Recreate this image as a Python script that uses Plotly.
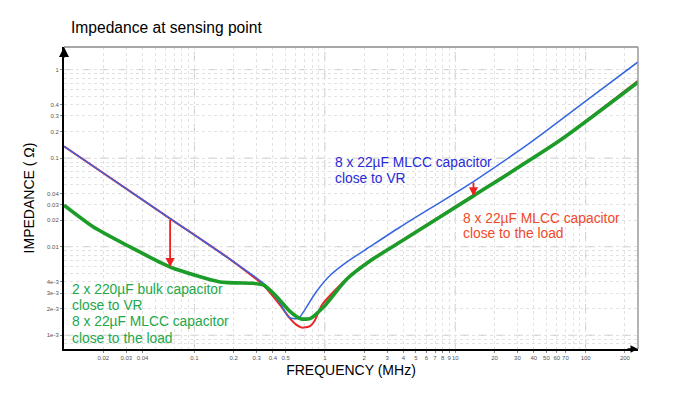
import math
import plotly.graph_objects as go

# ---------------- data ----------------
freq_blue = [0.01, 0.02, 0.0651, 0.188, 0.338, 0.454, 0.526, 0.57, 0.63, 0.686, 0.86, 1.1, 1.47, 2.22, 3.78, 13.8, 39.8, 100, 252]
z_blue = [0.136, 0.068, 0.0208, 7.2e-3, 3.86e-3, 2.29e-3, 1.61e-3, 1.55e-3, 1.55e-3, 1.84e-3, 3.1e-3, 4.76e-3, 6.7e-3, 0.01, 0.0167, 0.0545, 0.159, 0.44, 1.22]

freq_red = [0.01, 0.0651, 0.188, 0.338, 0.454, 0.54, 0.61, 0.667, 0.77, 0.84, 0.95, 1.47, 2.22, 3.78, 13.8, 63.7, 252]
z_red = [0.136, 0.0208, 7.2e-3, 3.67e-3, 2.19e-3, 1.55e-3, 1.3e-3, 1.22e-3, 1.27e-3, 1.48e-3, 2.2e-3, 4.35e-3, 7.0e-3, 0.0114, 0.0383, 0.161, 0.75]

freq_green = [0.01, 0.0168, 0.0303, 0.0651, 0.157, 0.283, 0.338, 0.428, 0.54, 0.65, 0.77, 0.977, 1.47, 2.22, 3.78, 13.8, 63.7, 252]
z_green = [0.0294, 0.0167, 0.0104, 5.9e-3, 4.0e-3, 3.86e-3, 3.7e-3, 2.73e-3, 1.86e-3, 1.54e-3, 1.54e-3, 2.08e-3, 4.3e-3, 6.9e-3, 0.0113, 0.0375, 0.159, 0.72]

# arrows: frequency, start impedance (blue), end impedance (green)
arrow_freq = [0.0651, 13.8]
arrow_from = [0.0208, 0.0553]
arrow_to = [5.9e-3, 0.0372]

x_tick_vals = [0.02, 0.03, 0.04, 0.1, 0.2, 0.3, 0.4, 0.5, 1, 2, 3, 4, 5, 6, 7, 8, 9, 10,
               20, 30, 40, 50, 60, 70, 100, 200]
x_tick_text = ["0.02", "0.03", "0.04", "0.1", "0.2", "0.3", "0.4", "0.5", "1", "2", "3", "4",
               "5", "6", "7", "8", "9", "10", "20", "30", "40", "50", "60", "70", "100", "200"]
x_minor_vals = [0.05, 0.06, 0.07, 0.08, 0.09, 0.6, 0.7, 0.8, 0.9, 80, 90]

y_tick_vals = [1e-3, 2e-3, 3e-3, 4e-3, 0.01, 0.02, 0.03, 0.04, 0.1, 0.2, 0.3, 0.4, 1]
y_tick_text = ["1e-3", "2e-3", "3e-3", "4e-3", "0.01", "0.02", "0.03", "0.04", "0.1", "0.2", "0.3", "0.4", "1"]
y_minor_vals = [8e-4, 9e-4, 5e-3, 6e-3, 7e-3, 8e-3, 9e-3, 0.05, 0.06, 0.07, 0.08, 0.09,
                0.5, 0.6, 0.7, 0.8, 0.9]

decades_x = [0.1, 1, 10, 100]
decades_y = [1e-3, 0.01, 0.1, 1]

x_range = [0.01, 252]
y_range = [7e-4, 1.8]

label_blue = ["8 x 22µF MLCC capacitor", "close to VR"]
label_red = ["8 x 22µF MLCC capacitor", "close to the load"]
label_green = ["2 x 220µF bulk capacitor", "close to VR", "8 x 22µF MLCC capacitor", "close to the load"]

FONT = "Arial, 'Liberation Sans', sans-serif"

fig = go.Figure()
fig.add_trace(go.Scatter(x=freq_red, y=z_red, mode="lines",
                         line=dict(color="#e8262a", width=2, shape="spline", smoothing=0.6)))
fig.add_trace(go.Scatter(x=freq_blue, y=z_blue, mode="lines",
                         line=dict(color="#3566e0", width=1.5, shape="spline", smoothing=0.6)))
fig.add_trace(go.Scatter(x=freq_green, y=z_green, mode="lines",
                         line=dict(color="#1c9c28", width=3.6, shape="spline", smoothing=0.6)))

shapes = []
for d in decades_x:
    shapes.append(dict(type="line", xref="x", yref="paper", x0=d, x1=d, y0=0, y1=1,
                       line=dict(color="#c8c8c8", width=1, dash="dash"), layer="below"))
for d in decades_y:
    shapes.append(dict(type="line", xref="paper", yref="y", x0=0, x1=1, y0=d, y1=d,
                       line=dict(color="#c8c8c8", width=1, dash="dash"), layer="below"))
# frame (top and right)
shapes.append(dict(type="line", xref="paper", yref="paper", x0=0, x1=1, y0=1, y1=1,
                   line=dict(color="#8a8a8a", width=1.5)))
shapes.append(dict(type="line", xref="paper", yref="paper", x0=1, x1=1, y0=0, y1=1,
                   line=dict(color="#9a9a9a", width=1.5)))

annotations = []
for f, z0, z1 in zip(arrow_freq, arrow_from, arrow_to):
    annotations.append(dict(x=math.log10(f), y=math.log10(z1), ax=math.log10(f), ay=math.log10(z0),
                            xref="x", yref="y", axref="x", ayref="y", text="", showarrow=True,
                            arrowhead=2, arrowsize=1, arrowwidth=1.8, arrowcolor="#f02020"))
# axis arrowheads
annotations.append(dict(x=0, y=1, xref="paper", yref="paper", ax=0, ay=12, text="", showarrow=True,
                        arrowhead=2, arrowsize=1, arrowwidth=2, arrowcolor="black"))
annotations.append(dict(x=1, y=0, xref="paper", yref="paper", ax=-12, ay=0, text="", showarrow=True,
                        arrowhead=2, arrowsize=1, arrowwidth=1.5, arrowcolor="black"))

# the page body adds an 8px margin, so the figure is 16px smaller than the window
OFF = 8
W, H = 677 - 2 * OFF, 396 - 2 * OFF
L, R, T, B = 64 - OFF, 677 - 638 - OFF, 47 - OFF, 396 - 349 - OFF
pw, ph = W - L - R, H - T - B


def px(xp):  # page pixel -> paper fraction
    return (xp - OFF - L) / pw


def py(yp):
    return (H - B - (yp - OFF)) / ph


def add_lines(lines, x_left, y_centers, color):
    for txt, yc in zip(lines, y_centers):
        annotations.append(dict(x=px(x_left), y=py(yc), xref="paper", yref="paper",
                                xanchor="left", yanchor="middle", align="left", showarrow=False,
                                text=txt, font=dict(family=FONT, size=13.8, color=color)))


add_lines(label_blue, 333, [162.5, 178], "#2a2ad8")
add_lines(label_red, 461, [218.5, 234], "#f04a28")
add_lines(label_green, 69.5, [289.5, 305, 321.5, 338], "#22a84a")

fig.update_layout(
    width=W, height=H,
    margin=dict(l=L, r=R, t=T, b=B, autoexpand=False),
    paper_bgcolor="white", plot_bgcolor="white",
    showlegend=False,
    font=dict(family=FONT),
    title=dict(text="Impedance at sensing point", x=(71 - OFF) / W, xanchor="left",
               y=1 - (28 - OFF) / H, yanchor="middle",
               font=dict(family=FONT, size=15.6, color="black")),
    shapes=shapes,
    annotations=annotations,
)

fig.update_xaxes(type="log", range=[math.log10(x_range[0]), math.log10(x_range[1])],
                 tickvals=x_tick_vals, ticktext=x_tick_text, tickangle=0, automargin=False,
                 tickfont=dict(size=6, color="#555555"),
                 ticks="outside", ticklen=2, tickcolor="#888888",
                 showgrid=True, gridcolor="#e2e2e2", griddash="dot", gridwidth=1,
                 minor=dict(tickvals=x_minor_vals, showgrid=True, gridcolor="#e2e2e2", griddash="dot", ticks=""),
                 showline=True, linecolor="black", linewidth=2, zeroline=False,
                 title=dict(text="FREQUENCY (MHz)", font=dict(family=FONT, size=14, color="black"), standoff=5))

fig.update_yaxes(type="log", range=[math.log10(y_range[0]), math.log10(y_range[1])],
                 tickvals=y_tick_vals, ticktext=y_tick_text, automargin=False,
                 tickfont=dict(size=6, color="#555555"),
                 ticks="outside", ticklen=2, tickcolor="#888888",
                 showgrid=True, gridcolor="#e2e2e2", griddash="dot", gridwidth=1,
                 minor=dict(tickvals=y_minor_vals, showgrid=True, gridcolor="#e2e2e2", griddash="dot", ticks=""),
                 showline=True, linecolor="black", linewidth=2, zeroline=False,
                 title=dict(text="IMPEDANCE ( Ω)", font=dict(family=FONT, size=14, color="black"), standoff=9))

fig.write_html("out.html")
